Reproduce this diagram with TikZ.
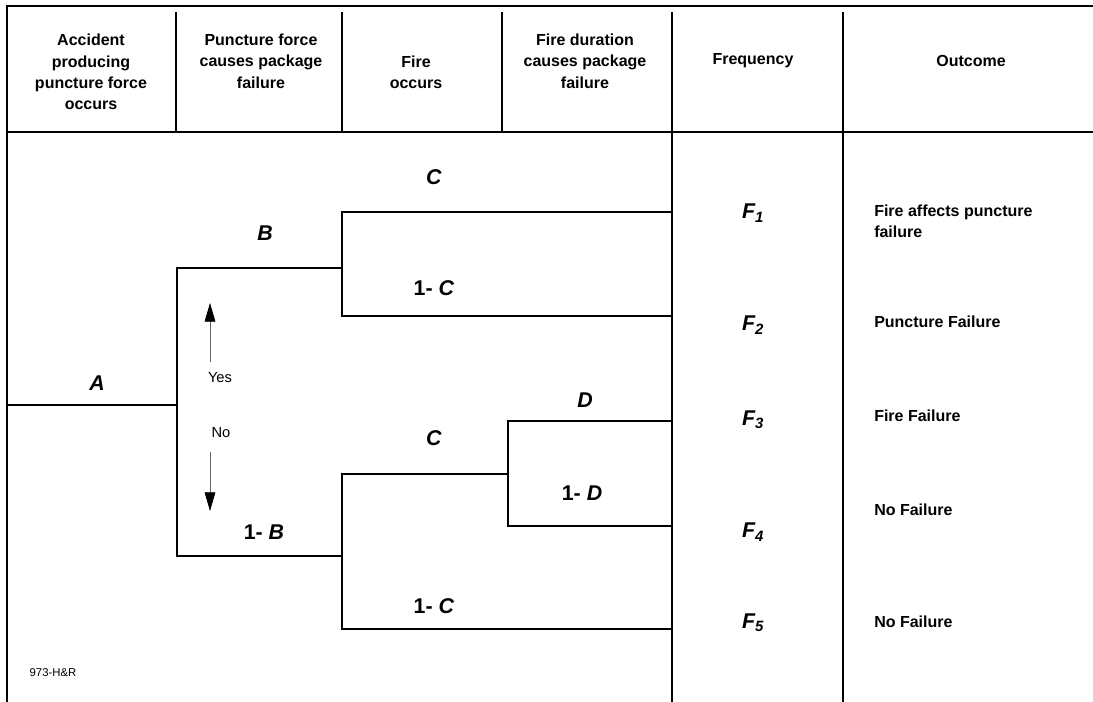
\documentclass[tikz,border=0pt]{standalone}
\usepackage{fontspec}
\setmainfont{Liberation Sans}
\usetikzlibrary{arrows.meta}

\tikzset{
  rule/.style={line width=1pt},
  branch/.style={line width=1pt},
  head/.style={font=\fontsize{12}{16}\selectfont\bfseries, align=center},
  prob/.style={font=\fontsize{16}{18}\selectfont\bfseries},
  freq/.style={font=\fontsize{16}{18}\selectfont\bfseries\itshape},
  outc/.style={font=\fontsize{12}{16}\selectfont\bfseries, align=left, anchor=west, inner sep=0pt},
  yesno/.style={line width=0.5pt, black!60, -{Triangle[length=14pt,width=8pt,color=black,fill=black]}}
}

\begin{document}
\begin{tikzpicture}[x=0.75pt, y=-0.75pt]
  \useasboundingbox (0,0) rectangle (1093,702);

  % table frame
  \draw[rule] (1093,6) -- (7,6) -- (7,702);
  \draw[rule] (7,132) -- (1093,132);
  \foreach \x in {176,342,502} {
    \draw[rule] (\x,12) -- (\x,132);
  }
  \foreach \x in {672,843} {
    \draw[rule] (\x,12) -- (\x,702);
  }

  % column headings
  \node[head] (hAcc) at (91,72) {Accident\\producing\\puncture force\\occurs};
  \node[head] (hPunct) at (261,61) {Puncture force\\causes package\\failure};
  \node[head] (hFire) at (416,72) {Fire\\occurs};
  \node[head] (hDur) at (585,61) {Fire duration\\causes package\\failure};
  \node[head] (hFreq) at (753,61) {Frequency};
  \node[head] (hOut) at (971,61) {Outcome};

  % branch points
  \coordinate (root) at (7,405);
  \coordinate (nA) at (177,405);
  \coordinate (yB) at (177,268);
  \coordinate (yBe) at (342,268);
  \coordinate (nB) at (177,556);
  \coordinate (nBe) at (342,556);
  \coordinate (c1) at (342,212);
  \coordinate (c1e) at (672,212);
  \coordinate (nc1) at (342,316);
  \coordinate (nc1e) at (672,316);
  \coordinate (c2) at (342,474);
  \coordinate (c2e) at (508,474);
  \coordinate (nc2) at (342,629);
  \coordinate (nc2e) at (672,629);
  \coordinate (d) at (508,421);
  \coordinate (de) at (672,421);
  \coordinate (nd) at (508,526);
  \coordinate (nde) at (672,526);

  % event tree
  \draw[branch] (root) -- (nA);
  \draw[branch] (yBe) -- (yB) -- (nB) -- (nBe);
  \draw[branch] (c1e) -- (c1) -- (nc1) -- (nc1e);
  \draw[branch] (c2e) -- (c2) -- (nc2) -- (nc2e);
  \draw[branch] (de) -- (d) -- (nd) -- (nde);

  % branch probabilities
  \node[prob] (pA) at (97,383) {\textit{A}};
  \node[prob] (pB) at (265,233) {\textit{B}};
  \node[prob] (pNB) at (264,532) {1- \textit{B}};
  \node[prob] (pC1) at (434,177) {\textit{C}};
  \node[prob] (pNC1) at (434,288) {1- \textit{C}};
  \node[prob] (pC2) at (434,438) {\textit{C}};
  \node[prob] (pNC2) at (434,606) {1- \textit{C}};
  \node[prob] (pD) at (585,400) {\textit{D}};
  \node[prob] (pND) at (582,493) {1- \textit{D}};

  % yes / no
  \coordinate (yesTail) at (210,362);
  \coordinate (yesTip) at (210,303);
  \coordinate (noTail) at (210,452);
  \coordinate (noTip) at (210,511);
  \draw[yesno] (yesTail) -- (yesTip);
  \draw[yesno] (noTail) -- (noTip);
  \node[font=\fontsize{11}{13}\selectfont] (yes) at (220,378) {Yes};
  \node[font=\fontsize{11}{13}\selectfont] (no) at (221,433) {No};

  % frequencies
  \foreach \y/\i in {213/1, 325/2, 420/3, 532/4, 623/5} {
    \node[freq] (f\i) at (753,\y) {F\textsubscript{\i}};
  }

  % outcomes
  \node[outc] (o1) at (874,221) {Fire affects puncture\\failure};
  \node[outc] (o2) at (874,322) {Puncture Failure};
  \node[outc] (o3) at (874,416) {Fire Failure};
  \node[outc] (o4) at (874,510) {No Failure};
  \node[outc] (o5) at (874,622) {No Failure};

  % figure tag
  \node[font=\fontsize{8.5}{10}\selectfont] (tag) at (53,673) {973-H\&R};
\end{tikzpicture}
\end{document}
